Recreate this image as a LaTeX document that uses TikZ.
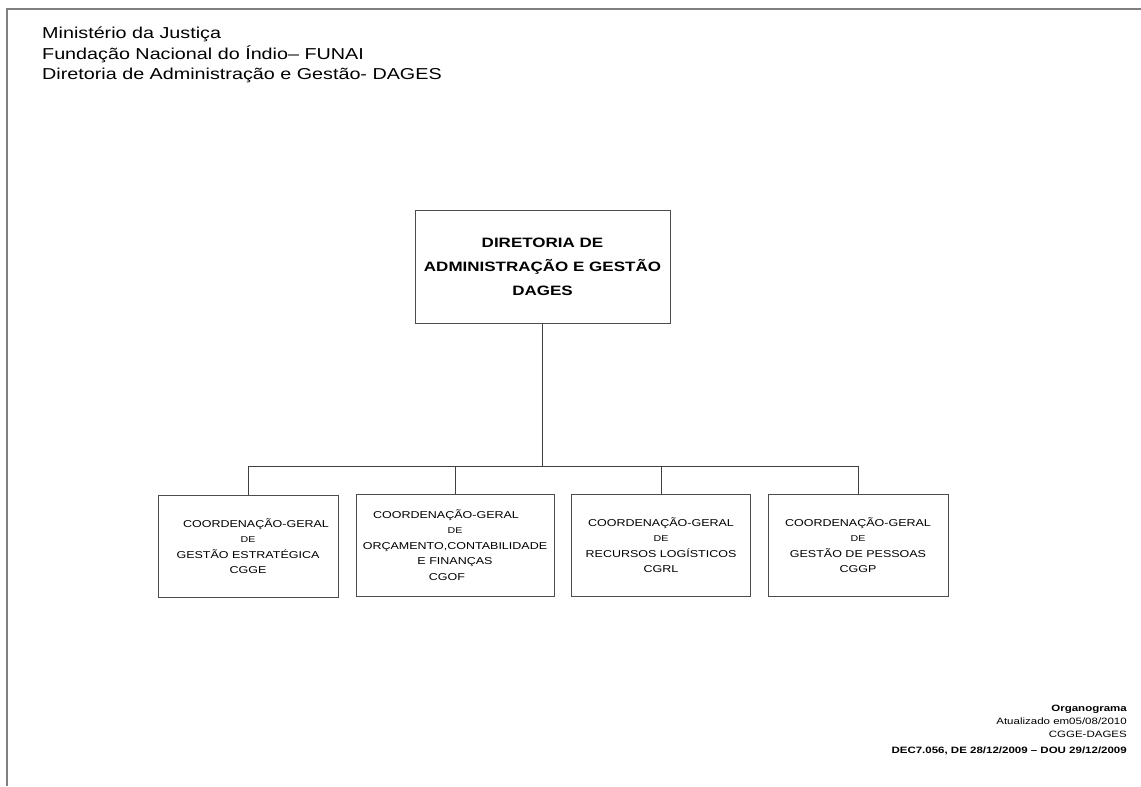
\documentclass[tikz,border=0pt]{standalone}
\usepackage{fontspec}
\setmainfont[FakeStretch=1.25]{Liberation Sans}
\begin{document}
\begin{tikzpicture}[x=1pt,y=-1pt,
  orgbox/.style={draw=black!70,line width=1pt,align=center,inner sep=0pt,
    font=\fontsize{10}{15.5}\selectfont},
  topbox/.style={draw=black!70,line width=1pt,align=center,inner sep=0pt,
    font=\bfseries\fontsize{13.6}{24}\selectfont},
  link/.style={draw=black!75,line width=0.9pt},
  frame/.style={draw=black!50,line width=1.5pt},
  header/.style={anchor=base west,inner sep=0pt,font=\fontsize{15.8}{20}\selectfont},
  note/.style={anchor=base east,inner sep=0pt,font=\fontsize{9.2}{12}\selectfont},
  boldnote/.style={note,font=\bfseries\fontsize{9.2}{12}\selectfont}]
\useasboundingbox (0,0) rectangle (1141,787);
\fill[white] (0,0) rectangle (1141,787);
\draw[frame] (7,786) -- (7,9) -- (1141,9);

\node[header] (h1) at (42,38) {Ministério da Justiça};
\node[header] (h2) at (42,59) {Fundação Nacional do Índio– FUNAI};
\node[header] (h3) at (42,79) {Diretoria de Administração e Gestão- DAGES};

\node[topbox,minimum width=255pt,minimum height=113pt] (top) at (542.5,266.5)
  {DIRETORIA DE\\ADMINISTRAÇÃO E GESTÃO\\DAGES};

\newcommand{\smallde}{{\fontsize{8.5}{10}\selectfont DE}}
\node[orgbox,minimum width=180pt,minimum height=102pt] (b1) at (248,546)
  {\hspace*{16pt}COORDENAÇÃO-GERAL\\\smallde\hspace*{12pt}\\GESTÃO ESTRATÉGICA\\CGGE};
\node[orgbox,minimum width=198pt,minimum height=102pt] (b2) at (455,545)
  {COORDENAÇÃO-GERAL\hspace*{18pt}\\\smallde\hspace*{36pt}\\ORÇAMENTO,CONTABILIDADE\\E FINANÇAS\hspace*{18pt}\\CGOF\hspace*{16pt}};
\node[orgbox,minimum width=179pt,minimum height=102pt] (b3) at (661,545)
  {COORDENAÇÃO-GERAL\\\smallde\\RECURSOS LOGÍSTICOS\\CGRL};
\node[orgbox,minimum width=180pt,minimum height=102pt] (b4) at (858,545)
  {COORDENAÇÃO-GERAL\\\smallde\hspace*{16pt}\\GESTÃO DE PESSOAS\hspace*{6pt}\\CGGP};

\coordinate (bus) at (0,466);
\draw[link] (top.south) -- (top.south |- bus);
\draw[link] (b1.north |- bus) -- (b4.north |- bus);
\foreach \b in {b1,b2,b3,b4} \draw[link] (\b.north) -- (\b.north |- bus);

\node[boldnote] (n1) at (1127,711) {Organograma};
\node[note] (n2) at (1127,724) {Atualizado em05/08/2010};
\node[note] (n3) at (1127,737) {CGGE-DAGES};
\node[boldnote] (n4) at (1127,753) {DEC7.056, DE 28/12/2009 – DOU 29/12/2009};
\end{tikzpicture}
\end{document}
